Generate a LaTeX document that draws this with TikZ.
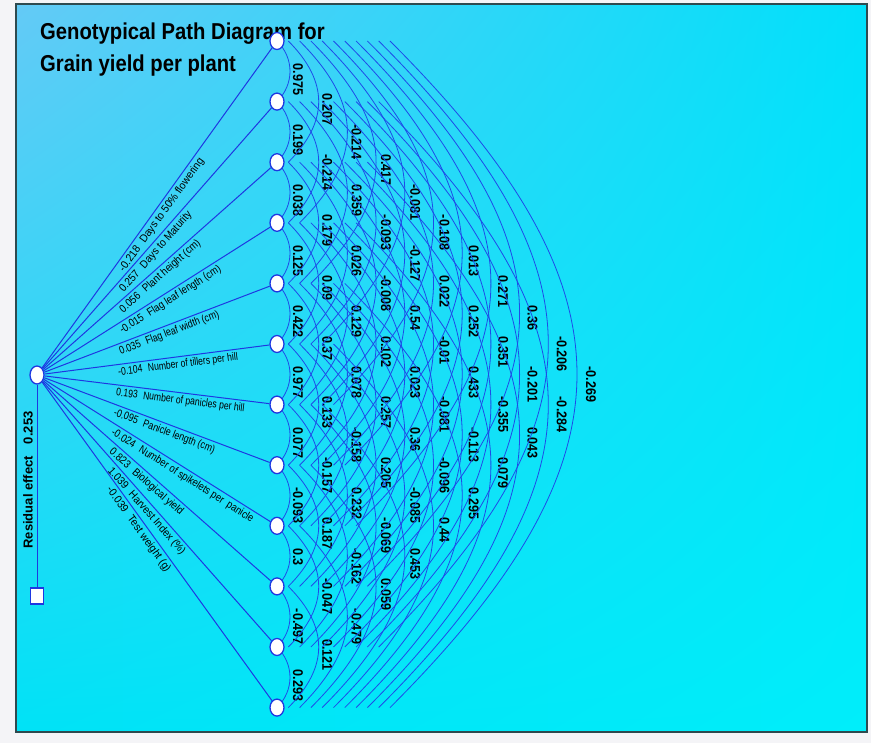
\documentclass[tikz,border=0pt]{standalone}
\usepackage{fontspec}
\usepackage{graphicx}
\setmainfont{Liberation Sans}
\newfontfamily\titlefont[FakeStretch=0.88]{Liberation Sans}
\usetikzlibrary{shapes.geometric,positioning,calc,shadings}
\definecolor{pathblue}{RGB}{30,55,225}
\definecolor{arcblue}{RGB}{30,75,232}
\definecolor{bgtl}{RGB}{100,202,246}
\definecolor{bgtr}{RGB}{0,224,250}
\definecolor{bgbl}{RGB}{0,226,246}
\definecolor{bgbr}{RGB}{0,238,250}
\definecolor{pagebg}{RGB}{244,244,247}
\definecolor{framec}{RGB}{46,74,79}
\pgfdeclarelayer{back}
\pgfdeclarelayer{mid}
\pgfsetlayers{back,mid,main}

\begin{document}
\begin{tikzpicture}[
    x=1pt, y=1pt,
    node distance=60.6pt,
    trait/.style={ellipse,draw=pathblue,fill=white,line width=1.3pt,inner sep=0pt,minimum width=14pt,minimum height=17pt},
    yield/.style={ellipse,draw=pathblue,fill=white,line width=1.3pt,inner sep=0pt,minimum width=14pt,minimum height=18pt},
    resid/.style={rectangle,draw=pathblue,fill=white,line width=1.3pt,inner sep=0pt,minimum width=13pt,minimum height=16pt},
    direct/.style={draw=pathblue,line width=1pt},
    corr/.style={draw=arcblue,line width=0.8pt},
    dlab/.style={sloped,anchor=north west,inner sep=2.5pt,font=\fontsize{11}{12}\selectfont},
    clab/.style={rotate=-90,anchor=west,inner sep=0pt,font=\bfseries\fontsize{12.6}{14}\selectfont}
    ]
    \useasboundingbox (0,0) rectangle (871,-743);
    \begin{pgfonlayer}{back}
        \fill[pagebg] (0,0) rectangle (871,-743);
        \shade[upper left=bgtl,upper right=bgtr,lower left=bgbl,lower right=bgbr] (16,-4) rectangle (867,-732);
        \draw[framec,line width=1.4pt] (16,-4) rectangle (867,-732);
    \end{pgfonlayer}

    \node[anchor=base west,inner sep=0pt,font=\titlefont\bfseries\fontsize{23}{26}\selectfont] (t1) at (40,-40) {Genotypical Path Diagram for};
    \node[anchor=base west,inner sep=0pt,font=\titlefont\bfseries\fontsize{23}{26}\selectfont] (t2) at (40,-72) {Grain yield per plant};

    \node [yield](GY) at (37,-375) {};
    \node [resid](R) at (37,-596) {};
    \node [trait](n1) at (277,-41) {};
    \foreach \i [evaluate=\i as \p using int(\i-1)] in {2,...,12}
        \node [trait](n\i) [below of=n\p] {};

    % direct effects (text narrowed more on the flat lines)
    \foreach \i/\val/\lbl in {1/-0.218/Days to 50\% flowering,
                             2/0.257/Days to Maturity,
                             3/0.056/Plant height (cm),
                             4/-0.015/Flag leaf length (cm),
                             5/0.035/Flag leaf width (cm),
                             6/-0.104/Number of tillers per hill,
                             7/0.193/Number of panicles per hill,
                             8/-0.095/Panicle length (cm),
                             9/-0.024/Number of spikelets per\ \ panicle,
                             10/0.823/Biological yield,
                             11/1.039/Harvest Index (\%),
                             12/-0.039/Test weight (g)} {
        \pgfmathsetmacro\ang{atan(abs(41+60.6*(\i-1)-375)/240)}
        \pgfmathsetmacro\sx{sqrt(0.6084*cos(\ang)*cos(\ang)+sin(\ang)*sin(\ang))}
        \draw [direct] (GY) -- (n\i) node[dlab,pos=0.31] {\scalebox{\sx}[1]{\val\hspace{7pt}\lbl}};
    }

    \draw [direct] (GY) -- (R);
    \node[rotate=90,font=\bfseries\fontsize{13}{15}\selectfont] (res) at (28,-480) {Residual effect\hspace{12pt}0.253};

    % correlations, one list per span
    \begin{pgfonlayer}{mid}
    \foreach \k/\vals in {1/{0.975,0.199,0.038,0.125,0.422,0.977,0.077,-0.093,0.3,-0.497,0.293},
                          2/{0.207,-0.214,0.179,0.09,0.37,0.133,-0.157,0.187,-0.047,0.121},
                          3/{-0.214,0.359,0.026,0.129,0.078,-0.158,0.232,-0.162,-0.479},
                          4/{0.417,-0.093,-0.008,0.102,0.257,0.205,-0.069,0.059},
                          5/{-0.081,-0.127,0.54,0.023,0.36,-0.085,0.453},
                          6/{-0.108,0.022,-0.01,-0.081,-0.096,0.44},
                          7/{0.013,0.252,0.433,-0.113,0.295},
                          8/{0.271,0.351,-0.355,0.079},
                          9/{0.36,-0.201,0.043},
                          10/{-0.206,-0.284},
                          11/{-0.269}} {
        \pgfmathsetmacro\dx{(\k-1)*11.3}
        \pgfmathsetmacro\bend{4/3*(13+(\k-1)*17.4)}
        \pgfmathsetmacro\lx{21+(\k-1)*29.3}
        \foreach \v [count=\i] in \vals {
            \pgfmathtruncatemacro\j{\i+\k}
            \draw [corr] ($(n\i)+(\dx,0)$) .. controls +(\bend,-\bend) and +(\bend,\bend) .. ($(n\j)+(\dx,0)$);
            \node [clab] (c\i-\j) at ($(n\i)!0.5!(n\j)+(\lx,8)$) {\scalebox{1}[1.12]{\v}};
        }
    }
    \end{pgfonlayer}
\end{tikzpicture}
\end{document}
